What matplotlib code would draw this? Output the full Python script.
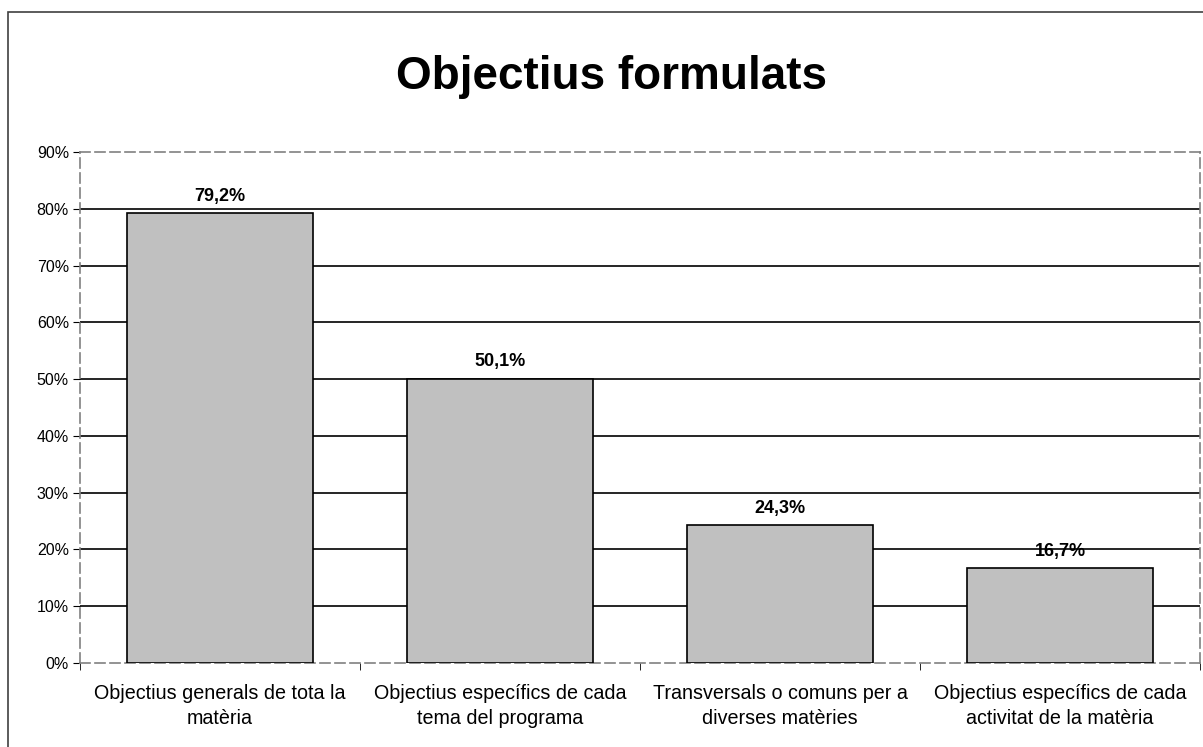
import numpy as np
import matplotlib
matplotlib.use("Agg")
from matplotlib import pyplot as plt
from matplotlib.patches import Rectangle

plt.rcParams['font.family'] = ['Liberation Sans', 'DejaVu Sans']

# data
categories = ["Objectius generals de tota la\nmatèria",
              "Objectius específics de cada\ntema del programa",
              "Transversals o comuns per a\ndiverses matèries",
              "Objectius específics de cada\nactivitat de la matèria"]
values = [79.2, 50.1, 24.3, 16.7]
value_labels = ["79,2%", "50,1%", "24,3%", "16,7%"]
yticks = [0, 10, 20, 30, 40, 50, 60, 70, 80, 90]

W, H = 1203, 747
fig = plt.figure(figsize=(W / 100, H / 100), dpi=100)
ax = fig.add_axes([80 / W, (H - 663) / H, 1120 / W, 511 / H])

# outer chart border (only left/top are visible in the original)
fig.patches.append(Rectangle((8 / W, -0.1), 1.2, (H - 12) / H + 0.1,
                             transform=fig.transFigure, fill=False,
                             edgecolor='#404040', linewidth=1.2))

x = np.arange(len(values))
ax.bar(x, values, width=0.667, color='#c0c0c0', edgecolor='black',
       linewidth=1.2, zorder=3)

# gridlines
for t in yticks[1:-1]:
    ax.axhline(t, color='black', linewidth=1.2, zorder=2)

for xi, v, lab in zip(x, values, value_labels):
    ax.annotate(lab, (xi, v), xytext=(0, 6), textcoords='offset points',
                ha='center', va='bottom', fontsize=13, fontweight='bold',
                zorder=4)

ax.set_xlim(-0.5, len(values) - 0.5)
ax.set_ylim(0, 90)
ax.set_yticks(yticks)
ax.set_yticklabels([f"{t}%" for t in yticks], fontsize=11.5)

# category labels with separator ticks between them
ax.set_xticks(x)
ax.set_xticklabels(categories, fontsize=14.2, linespacing=1.4)
ax.tick_params(axis='x', length=0, pad=15)
ax.set_xticks(np.arange(len(values) + 1) - 0.5, minor=True)
ax.tick_params(axis='x', which='minor', length=5, direction='out', color='black')
ax.tick_params(axis='y', length=5, direction='out', color='black', pad=3)

for side in ['top', 'right', 'left', 'bottom']:
    ax.spines[side].set_color('#808080')
    ax.spines[side].set_linestyle((0, (6, 3)))
    ax.spines[side].set_linewidth(1.2)

fig.text(611 / W, (H - 77) / H, "Objectius formulats", ha='center', va='center',
         fontsize=33, fontweight='bold')

fig.savefig("out.png", dpi=100)
